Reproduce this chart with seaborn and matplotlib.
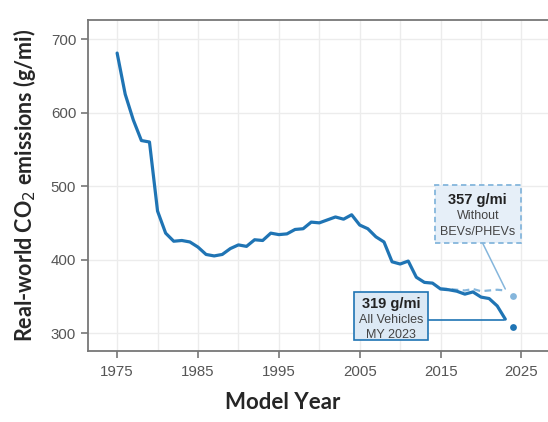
import numpy as np
import pandas as pd
import matplotlib.pyplot as plt
import seaborn as sns
from matplotlib.patches import Rectangle

# data
years = list(range(1975, 2024))
co2_all = [681, 625, 590, 562, 560, 466, 436, 425, 426, 424,
           417, 407, 405, 407, 415, 420, 418, 427, 426, 436,
           434, 435, 441, 442, 451, 450, 454, 458, 455, 461,
           447, 442, 431, 424, 397, 394, 398, 376, 369, 368,
           360, 359, 357, 353, 356, 349, 347, 337, 319]

years_nobev = list(range(2015, 2024))
co2_nobev = [361, 360, 359, 358, 360, 357, 358, 359, 358]

prelim_year = [2024]
prelim_all = [308]
prelim_nobev = [350]

dark_blue = "#1f74b4"
light_blue = "#85b6dc"

df = pd.DataFrame({"year": years, "co2": co2_all})
df2 = pd.DataFrame({"year": years_nobev, "co2": co2_nobev})

sns.set_theme(style="whitegrid")
plt.rcParams["font.family"] = ["Liberation Sans", "DejaVu Sans"]

fig = plt.figure(figsize=(5.48, 4.22), dpi=100)
ax = fig.add_axes([0.1606, 0.168, 0.85, 0.7846])

sns.lineplot(data=df2, x="year", y="co2", ax=ax, color=light_blue,
             linestyle=(0, (3, 2)), linewidth=1.6)
sns.lineplot(data=df, x="year", y="co2", ax=ax, color=dark_blue, linewidth=2.3)
ax.scatter(prelim_year, prelim_nobev, color=light_blue, s=24, zorder=5, linewidths=0)
ax.scatter(prelim_year, prelim_all, color=dark_blue, s=24, zorder=5, linewidths=0)

ax.set_xlim(1971.4, 2029.0)
ax.set_ylim(275.5, 726)
ax.set_xticks([1975, 1985, 1995, 2005, 2015, 2025])
ax.set_xticks(np.arange(1975, 2030, 5), minor=True)
ax.set_yticks([300, 400, 500, 600, 700])
ax.grid(True, which="both", color="#ececec", linewidth=1.0)
ax.set_axisbelow(True)

for s in ["left", "bottom", "top"]:
    ax.spines[s].set_color("#777777")
    ax.spines[s].set_linewidth(1.3)
ax.spines["right"].set_visible(False)
ax.tick_params(axis="both", which="major", length=5, width=1.2, color="#777777",
               labelsize=10.8, labelcolor="#555555", direction="out",
               bottom=True, left=True)
ax.tick_params(axis="x", which="minor", length=0)
ax.tick_params(axis="x", pad=5)

ax.set_xlabel("")
ax.set_ylabel("")
fig.text(0.516, 0.022, "Model Year", ha="center", va="bottom",
         fontsize=16, fontweight="bold", family=["Lato", "DejaVu Sans"])
fig.text(0.045, 0.562, "Real-world CO$_2$ emissions (g/mi)", ha="center", va="center",
         rotation=90, fontsize=15.5, fontweight="bold", family=["Lato", "DejaVu Sans"])

# annotation: all vehicles
ax.plot([2013.5, 2022.9], [318, 318], color=dark_blue, linewidth=1.2, zorder=3)
ax.add_patch(Rectangle((2004.3, 290.5), 9.2, 65.3, facecolor="#dce9f5",
                       edgecolor=dark_blue, linewidth=1.2, zorder=4))
ax.text(2008.9, 340, "319 g/mi", ha="center", va="center", fontsize=10.5,
        fontweight="bold", color="#222222", zorder=6)
ax.text(2008.9, 318, "All Vehicles", ha="center", va="center", fontsize=9,
        color="#444444", zorder=6)
ax.text(2008.9, 297.5, "MY 2023", ha="center", va="center", fontsize=9,
        color="#444444", zorder=6)

# annotation: without BEVs/PHEVs
ax.plot([2020.2, 2023.0], [422.4, 360], color=light_blue, linewidth=1.1, zorder=3)
ax.add_patch(Rectangle((2014.3, 422.4), 10.6, 79, facecolor="#e6eff8",
                       edgecolor=light_blue, linewidth=1.3, linestyle=(0, (3, 2)),
                       zorder=4))
ax.text(2019.6, 481, "357 g/mi", ha="center", va="center", fontsize=10.5,
        fontweight="bold", color="#222222", zorder=6)
ax.text(2019.6, 459, "Without", ha="center", va="center", fontsize=9,
        color="#444444", zorder=6)
ax.text(2019.6, 438, "BEVs/PHEVs", ha="center", va="center", fontsize=9,
        color="#444444", zorder=6)

fig.savefig("out.png", dpi=100)
